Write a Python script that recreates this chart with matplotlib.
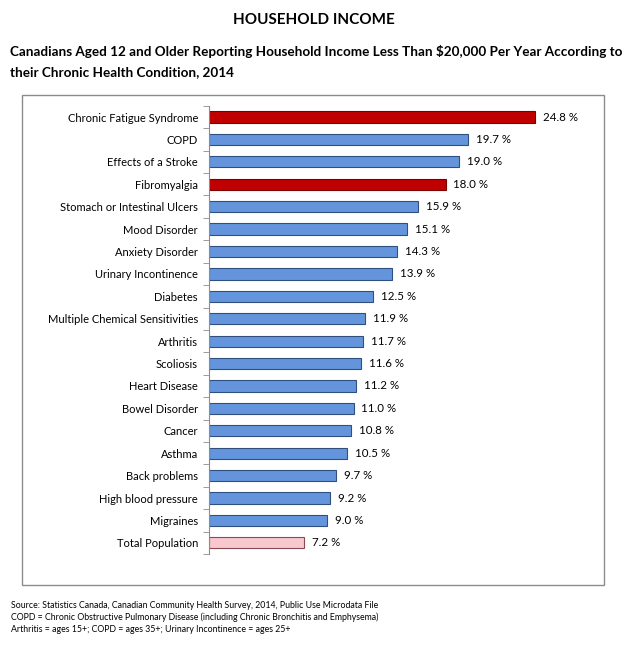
import matplotlib
matplotlib.use('Agg')
import matplotlib.pyplot as plt
from matplotlib.patches import Rectangle

conditions = ['Chronic Fatigue Syndrome', 'COPD', 'Effects of a Stroke', 'Fibromyalgia',
              'Stomach or Intestinal Ulcers', 'Mood Disorder', 'Anxiety Disorder',
              'Urinary Incontinence', 'Diabetes', 'Multiple Chemical Sensitivities',
              'Arthritis', 'Scoliosis', 'Heart Disease', 'Bowel Disorder', 'Cancer',
              'Asthma', 'Back problems', 'High blood pressure', 'Migraines',
              'Total Population']
pct = [24.8, 19.7, 19.0, 18.0, 15.9, 15.1, 14.3, 13.9, 12.5, 11.9,
       11.7, 11.6, 11.2, 11.0, 10.8, 10.5, 9.7, 9.2, 9.0, 7.2]
highlight = ['Chronic Fatigue Syndrome', 'Fibromyalgia']
total_label = 'Total Population'

plt.rcParams['font.family'] = ['Lato', 'DejaVu Sans']

fig = plt.figure(figsize=(6.28, 6.47), dpi=100)

# outer frame around the chart
fig.patches.append(Rectangle((22/628, 1-585/647), 582/628, 490/647,
                             transform=fig.transFigure, fill=False,
                             edgecolor='#8c8c8c', lw=1))

ax = fig.add_axes([209/628, 0.1437, 0.586, 0.6927])

colors = []
edges = []
for c in conditions:
    if c in highlight:
        colors.append('#C00000'); edges.append('#7a0000')
    elif c == total_label:
        colors.append('#F8C8CE'); edges.append('#8a4a50')
    else:
        colors.append('#6495DC'); edges.append('#2f4f7f')

y = list(range(len(conditions)))
ax.barh(y, pct, height=0.5, color=colors, edgecolor=edges, linewidth=0.8)
for yi, v in zip(y, pct):
    ax.text(v + 0.6, yi, '%.1f %%' % v, va='center', ha='left', fontsize=8.3)

ax.set_ylim(len(conditions) - 0.5, -0.5)
ax.set_xlim(0, 28)
ax.set_yticks(y)
ax.set_yticklabels(conditions, fontsize=8)
ax.tick_params(axis='y', length=0, pad=8)
ax.set_yticks([i + 0.5 for i in range(-1, len(conditions))], minor=True)
ax.tick_params(axis='y', which='minor', length=4, color='#8c8c8c')
ax.set_xticks([])
for s in ['top', 'right', 'bottom']:
    ax.spines[s].set_visible(False)
ax.spines['left'].set_color('#8c8c8c')

fig.text(0.5, 1-20/647, 'HOUSEHOLD INCOME', ha='center', va='center',
         fontsize=11, fontweight='bold')
fig.text(10/628, 1-52/647,
         'Canadians Aged 12 and Older Reporting Household Income Less Than $20,000 Per Year According to',
         ha='left', va='center', fontsize=9.7, fontweight='bold')
fig.text(10/628, 1-72/647, 'their Chronic Health Condition, 2014',
         ha='left', va='center', fontsize=9.7, fontweight='bold')

notes = ['Source: Statistics Canada, Canadian Community Health Survey, 2014, Public Use Microdata File',
         'COPD = Chronic Obstructive Pulmonary Disease (including Chronic Bronchitis and Emphysema)',
         'Arthritis = ages 15+; COPD = ages 35+; Urinary Incontinence = ages 25+']
for i, n in enumerate(notes):
    fig.text(11/628, 1-(605 + i*12)/647, n, ha='left', va='center', fontsize=6.3)

fig.savefig('out.png', dpi=100)
